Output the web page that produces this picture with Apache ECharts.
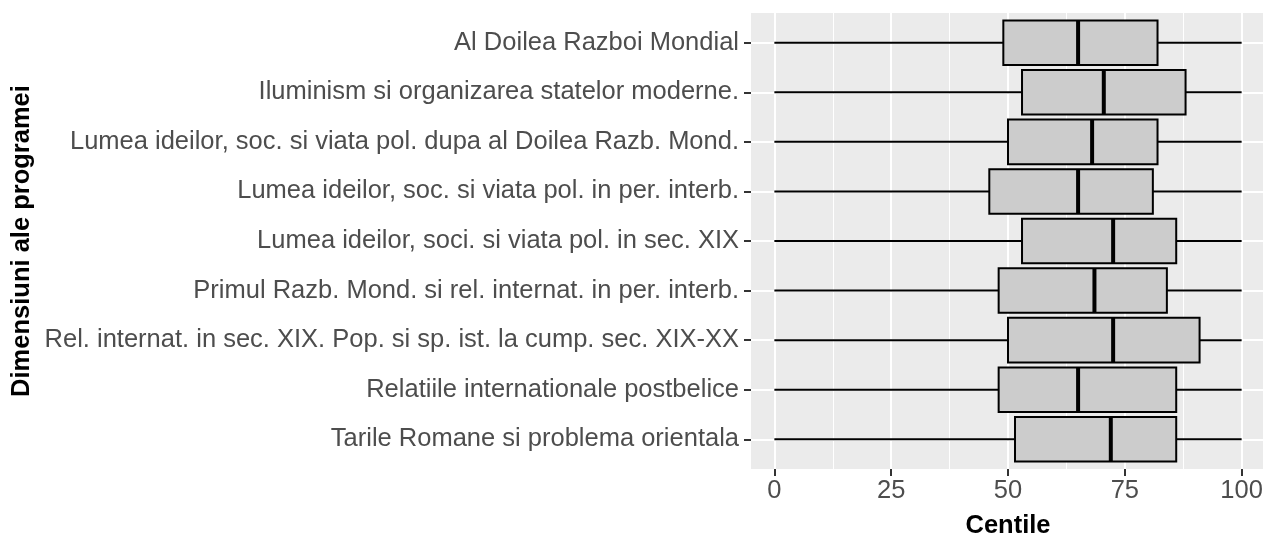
<!DOCTYPE html>
<html>
<head>
<meta charset="utf-8">
<script src="https://cdn.jsdelivr.net/npm/echarts@6/dist/echarts.min.js"></script>
<style>
  html, body { margin: 0; padding: 0; background: #fff; }
  #chart { width: 1263px; height: 533px; }
</style>
</head>
<body>
<div id="chart"></div>
<script>
// categories, top to bottom
var dimensiuni = [
    'Al Doilea Razboi Mondial',
    'Iluminism si organizarea statelor moderne.',
    'Lumea ideilor, soc. si viata pol. dupa al Doilea Razb. Mond.',
    'Lumea ideilor, soc. si viata pol. in per. interb.',
    'Lumea ideilor, soci. si viata pol. in sec. XIX',
    'Primul Razb. Mond. si rel. internat. in per. interb.',
    'Rel. internat. in sec. XIX. Pop. si sp. ist. la cump. sec. XIX-XX',
    'Relatiile internationale postbelice',
    'Tarile Romane si problema orientala'
];

// five-number summaries (centile)
var minime   = [0, 0, 0, 0, 0, 0, 0, 0, 0];
var q1       = [49, 53, 50, 46, 53, 48, 50, 48, 51.5];
var mediane  = [65, 70.5, 68, 65, 72.5, 68.5, 72.5, 65, 72];
var q3       = [82, 88, 82, 81, 86, 84, 91, 86, 86];
var maxime   = [100, 100, 100, 100, 100, 100, 100, 100, 100];

var xTicks = [0, 25, 50, 75, 100];
var xMinor = [12.5, 37.5, 62.5, 87.5];

var boxData = dimensiuni.map(function (d, i) {
    return [i + 1, minime[i], q1[i], mediane[i], q3[i], maxime[i]];
});
var yPos = dimensiuni.map(function (d, i) { return i + 1; });

function renderBox(params, api) {
    var y = api.value(0);
    var pMin = api.coord([api.value(1), y]);
    var pQ1 = api.coord([api.value(2), y]);
    var pMed = api.coord([api.value(3), y]);
    var pQ3 = api.coord([api.value(4), y]);
    var pMax = api.coord([api.value(5), y]);
    var h = api.size([0, 0.9])[1];
    var lineStyle = { stroke: '#000', lineWidth: 2 };
    return {
        type: 'group',
        children: [
            { type: 'line', shape: { x1: pMin[0], y1: pMin[1], x2: pQ1[0], y2: pQ1[1] }, style: lineStyle },
            { type: 'line', shape: { x1: pQ3[0], y1: pQ3[1], x2: pMax[0], y2: pMax[1] }, style: lineStyle },
            { type: 'rect', shape: { x: pQ1[0], y: pQ1[1] - h / 2, width: pQ3[0] - pQ1[0], height: h },
              style: { fill: '#CCCCCC', stroke: '#000', lineWidth: 2 } },
            { type: 'line', shape: { x1: pMed[0], y1: pMed[1] - h / 2, x2: pMed[0], y2: pMed[1] + h / 2 },
              style: { stroke: '#000', lineWidth: 4 } }
        ]
    };
}

var chart = echarts.init(document.getElementById('chart'));

var option = {
    animation: false,
    grid: {
        left: 751,
        right: -2,
        top: 13,
        bottom: 64,
        outerBoundsMode: 'none',
        show: true,
        backgroundColor: '#EBEBEB',
        borderWidth: 0
    },
    xAxis: [{
        type: 'value',
        min: -5,
        max: 105,
        name: 'Centile',
        nameLocation: 'middle',
        nameGap: 44,
        nameTextStyle: { color: '#000', fontSize: 25.5, fontWeight: 'bold', fontFamily: 'Liberation Sans' },
        axisLine: { show: false, onZero: false },
        axisTick: { show: true, length: 7, customValues: xTicks, lineStyle: { color: '#333', width: 2 } },
        axisLabel: { customValues: xTicks, color: '#4D4D4D', fontSize: 25.5, margin: 9, fontFamily: 'Liberation Sans' },
        splitLine: { show: true, lineStyle: { color: '#fff', width: 2 } }
    }, {
        type: 'value',
        min: -5,
        max: 105,
        position: 'bottom',
        axisLine: { show: false, onZero: false },
        axisTick: { show: false, customValues: xMinor },
        axisLabel: { show: false },
        splitLine: { show: true, lineStyle: { color: '#fff', width: 1 } }
    }],
    yAxis: {
        type: 'value',
        min: 0.4,
        max: 9.6,
        inverse: true,
        name: 'Dimensiuni ale programei',
        nameLocation: 'middle',
        nameRotate: 90,
        nameGap: 716,
        nameTextStyle: { color: '#000', fontSize: 25.5, fontWeight: 'bold', fontFamily: 'Liberation Sans' },
        axisLine: { show: false, onZero: false },
        axisTick: { show: true, length: 7, customValues: yPos, lineStyle: { color: '#333', width: 2 } },
        axisLabel: {
            customValues: yPos,
            color: '#4D4D4D',
            fontSize: 25.5,
            margin: 12,
            fontFamily: 'Liberation Sans',
            formatter: function (v) { return dimensiuni[Math.round(v) - 1]; }
        },
        splitLine: { show: true, lineStyle: { color: '#fff', width: 2 } }
    },
    series: [{
        type: 'custom',
        renderItem: renderBox,
        encode: { x: [1, 2, 3, 4, 5], y: 0 },
        data: boxData,
        clip: false
    }]
};

chart.setOption(option);
</script>
</body>
</html>
